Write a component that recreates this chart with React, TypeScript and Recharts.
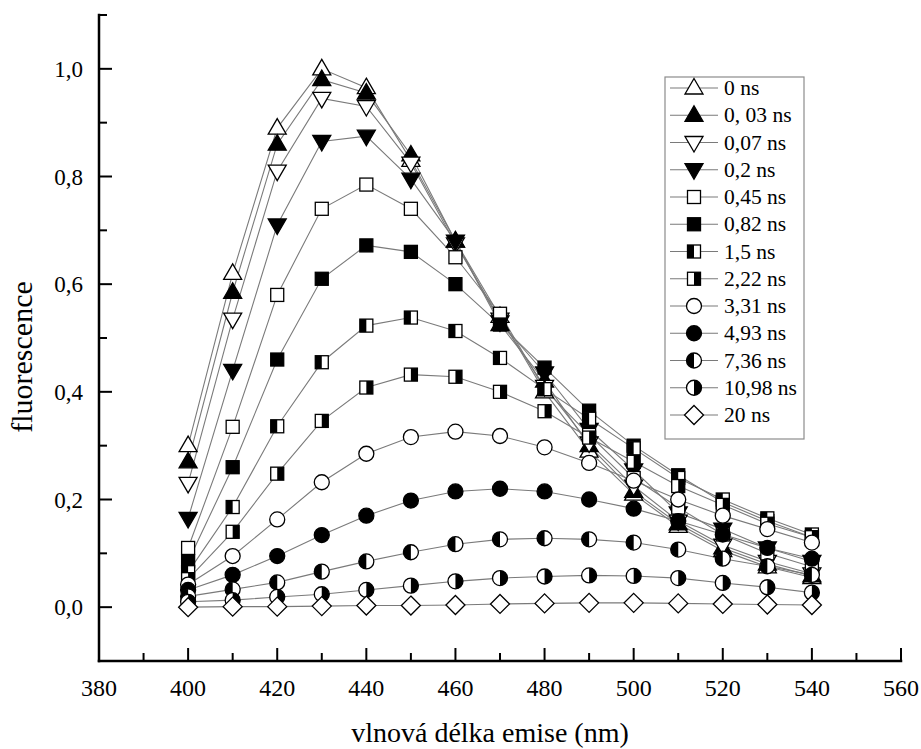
import React from 'react';
import { LineChart, Line, XAxis, YAxis } from 'recharts';

const wavelengths = [400, 410, 420, 430, 440, 450, 460, 470, 480, 490, 500, 510, 520, 530, 540];

const delays = ['0 ns', '0, 03 ns', '0,07 ns', '0,2 ns', '0,45 ns', '0,82 ns', '1,5 ns', '2,22 ns', '3,31 ns', '4,93 ns', '7,36 ns', '10,98 ns', '20 ns'];
const markers = ['triUp', 'triUpFill', 'triDown', 'triDownFill', 'sq', 'sqFill', 'sqHalfL', 'sqHalfR', 'ci', 'ciFill', 'ciHalfL', 'ciHalfR', 'dia'];

const ns0 = [0.3, 0.62, 0.89, 1.0, 0.965, 0.83, 0.68, 0.54, 0.4, 0.29, 0.21, 0.15, 0.105, 0.075, 0.055];
const ns003 = [0.27, 0.585, 0.86, 0.98, 0.955, 0.84, 0.68, 0.525, 0.42, 0.3, 0.215, 0.155, 0.11, 0.08, 0.058];
const ns007 = [0.23, 0.535, 0.81, 0.945, 0.93, 0.825, 0.675, 0.535, 0.41, 0.305, 0.225, 0.16, 0.115, 0.085, 0.062];
const ns02 = [0.165, 0.44, 0.71, 0.865, 0.875, 0.795, 0.68, 0.53, 0.435, 0.33, 0.255, 0.175, 0.145, 0.11, 0.085];
const ns045 = [0.11, 0.335, 0.58, 0.74, 0.785, 0.74, 0.65, 0.545, 0.405, 0.32, 0.24, 0.185, 0.135, 0.1, 0.075];
const ns082 = [0.085, 0.26, 0.46, 0.61, 0.672, 0.66, 0.6, 0.525, 0.445, 0.365, 0.3, 0.245, 0.195, 0.16, 0.13];
const ns15 = [0.065, 0.186, 0.336, 0.455, 0.523, 0.538, 0.513, 0.463, 0.405, 0.35, 0.295, 0.24, 0.2, 0.165, 0.135];
const ns222 = [0.052, 0.14, 0.248, 0.346, 0.408, 0.432, 0.428, 0.4, 0.364, 0.315, 0.27, 0.225, 0.19, 0.155, 0.13];
const ns331 = [0.042, 0.095, 0.163, 0.232, 0.285, 0.316, 0.326, 0.318, 0.297, 0.268, 0.235, 0.2, 0.17, 0.145, 0.12];
const ns493 = [0.032, 0.06, 0.095, 0.134, 0.17, 0.198, 0.215, 0.22, 0.215, 0.2, 0.183, 0.16, 0.135, 0.11, 0.09];
const ns736 = [0.02, 0.033, 0.046, 0.066, 0.085, 0.102, 0.117, 0.126, 0.128, 0.126, 0.12, 0.107, 0.09, 0.076, 0.06];
const ns1098 = [0.01, 0.013, 0.019, 0.024, 0.032, 0.04, 0.048, 0.054, 0.057, 0.059, 0.058, 0.054, 0.045, 0.037, 0.027];
const ns20 = [0.0, 0.001, 0.001, 0.002, 0.003, 0.003, 0.004, 0.006, 0.007, 0.008, 0.008, 0.007, 0.006, 0.005, 0.004];

const seriesValues = [ns0, ns003, ns007, ns02, ns045, ns082, ns15, ns222, ns331, ns493, ns736, ns1098, ns20];

const xTicks = [380, 390, 400, 410, 420, 430, 440, 450, 460, 470, 480, 490, 500, 510, 520, 530, 540, 550, 560];
const yTicks = [-0.1, 0, 0.1, 0.2, 0.3, 0.4, 0.5, 0.6, 0.7, 0.8, 0.9, 1.0, 1.1];

const data = wavelengths.map((w, i) => {
  const row: Record<string, number> = { w };
  seriesValues.forEach((vals, k) => {
    row['s' + k] = vals[i];
  });
  return row;
});

const SERIF = 'Liberation Serif';
const AXIS = { stroke: '#000', strokeWidth: 2.5, strokeLinecap: 'square' as const };

// one text helper so every label gets the serif face
function T(props: any) {
  const { children, size, ...rest } = props;
  return (
    <text {...rest} fontSize={size} fontFamily={SERIF} style={{ fontFamily: SERIF, fontSize: size }} fill="#000">
      {children}
    </text>
  );
}

function Marker({ kind, cx, cy }: { kind: string; cx: number; cy: number }) {
  const sw = 1.3;
  const black = '#000';
  const white = '#fff';
  switch (kind) {
    case 'triUp':
    case 'triUpFill':
      return (
        <polygon
          points={`${cx},${cy - 9.5} ${cx + 9},${cy + 6} ${cx - 9},${cy + 6}`}
          fill={kind === 'triUpFill' ? black : white}
          stroke={black}
          strokeWidth={sw}
        />
      );
    case 'triDown':
    case 'triDownFill':
      return (
        <polygon
          points={`${cx},${cy + 9.5} ${cx + 9},${cy - 6} ${cx - 9},${cy - 6}`}
          fill={kind === 'triDownFill' ? black : white}
          stroke={black}
          strokeWidth={sw}
        />
      );
    case 'sq':
    case 'sqFill':
      return <rect x={cx - 6.5} y={cy - 6.5} width={13} height={13} fill={kind === 'sqFill' ? black : white} stroke={black} strokeWidth={sw} />;
    case 'sqHalfL':
    case 'sqHalfR':
      return (
        <g>
          <rect x={cx - 6.5} y={cy - 6.5} width={13} height={13} fill={white} stroke={black} strokeWidth={sw} />
          <rect x={kind === 'sqHalfL' ? cx - 6.5 : cx} y={cy - 6.5} width={6.5} height={13} fill={black} />
        </g>
      );
    case 'ci':
    case 'ciFill':
      return <circle cx={cx} cy={cy} r={7.5} fill={kind === 'ciFill' ? black : white} stroke={black} strokeWidth={sw} />;
    case 'ciHalfL':
    case 'ciHalfR': {
      const r = 7.5;
      const sweep = kind === 'ciHalfL' ? 0 : 1;
      return (
        <g>
          <circle cx={cx} cy={cy} r={r} fill={white} stroke={black} strokeWidth={sw} />
          <path d={`M ${cx} ${cy - r} A ${r} ${r} 0 0 ${sweep} ${cx} ${cy + r} Z`} fill={black} />
        </g>
      );
    }
    default:
      return (
        <polygon
          points={`${cx},${cy - 9.5} ${cx + 9.5},${cy} ${cx},${cy + 9.5} ${cx - 9.5},${cy}`}
          fill={white}
          stroke={black}
          strokeWidth={sw}
        />
      );
  }
}

const isMajorX = (v: number) => v % 20 === 0;
const isMajorY = (v: number) => Math.round(v * 10) % 2 === 0 && v >= 0 && v <= 1;

const BottomTick = (p: any) => {
  const v = p.payload.value;
  const major = isMajorX(v);
  return (
    <g>
      <line x1={p.x} y1={p.y} x2={p.x} y2={p.y - (major ? 13 : 8)} stroke="#000" strokeWidth={2} />
      {major && (
        <T x={p.x} y={p.y + 35} textAnchor="middle" size={24}>
          {v}
        </T>
      )}
    </g>
  );
};

const TopTick = (p: any) => {
  const major = isMajorX(p.payload.value);
  return <line x1={p.x} y1={p.y} x2={p.x} y2={p.y + (major ? 13 : 8)} stroke="#000" strokeWidth={2} />;
};

const LeftTick = (p: any) => {
  const v = p.payload.value;
  const major = isMajorY(v);
  return (
    <g>
      <line x1={p.x} y1={p.y} x2={p.x + (major ? 13 : 8)} y2={p.y} stroke="#000" strokeWidth={2} />
      {major && (
        <T x={p.x - 16} y={p.y + 8} textAnchor="end" size={23}>
          {v.toFixed(1).replace('.', ',')}
        </T>
      )}
    </g>
  );
};

const RightTick = (p: any) => {
  const major = isMajorY(p.payload.value);
  return <line x1={p.x} y1={p.y} x2={p.x - (major ? 13 : 8)} y2={p.y} stroke="#000" strokeWidth={2} />;
};

function Overlay() {
  const rowH = 27.25;
  return (
    <svg width={921} height={749} style={{ position: 'absolute', left: 0, top: 0, pointerEvents: 'none' }}>
      <T x={490} y={742} textAnchor="middle" size={28}>
        vlnová délka emise (nm)
      </T>
      <T x={0} y={0} transform="translate(32,357) rotate(-90)" textAnchor="middle" size={30}>
        fluorescence
      </T>
      <rect x={665} y={77} width={139} height={362} fill="#fff" stroke="#8c8c8c" strokeWidth={1.2} />
      {delays.map((label, i) => {
        const cy = 88 + i * rowH;
        return (
          <g key={label}>
            <line x1={670} y1={cy} x2={718} y2={cy} stroke="#7a7a7a" strokeWidth={1.1} />
            <Marker kind={markers[i]} cx={694} cy={cy} />
            <T x={724} y={cy + 7} size={21.5}>
              {label}
            </T>
          </g>
        );
      })}
    </svg>
  );
}

export default function App() {
  return (
    <div style={{ position: 'absolute', left: 0, top: 0, width: 921, height: 749, background: '#fff' }}>
      <LineChart width={921} height={749} data={data} margin={{ top: 15, right: 20, bottom: 0, left: 0 }}>
        <XAxis
          dataKey="w"
          type="number"
          domain={[380, 560]}
          ticks={xTicks}
          interval={0}
          height={88}
          tickSize={0}
          tickMargin={0}
          tickLine={false}
          axisLine={AXIS}
          tick={<BottomTick />}
        />
        <XAxis
          xAxisId="top"
          orientation="top"
          type="number"
          domain={[380, 560]}
          ticks={xTicks}
          interval={0}
          height={0}
          tickSize={0}
          tickMargin={0}
          tickLine={false}
          axisLine={AXIS}
          tick={<TopTick />}
        />
        <YAxis
          type="number"
          domain={[-0.1, 1.1]}
          ticks={yTicks}
          interval={0}
          width={99}
          tickSize={0}
          tickMargin={0}
          tickLine={false}
          axisLine={AXIS}
          tick={<LeftTick />}
        />
        <YAxis
          yAxisId="right"
          orientation="right"
          type="number"
          domain={[-0.1, 1.1]}
          ticks={yTicks}
          interval={0}
          width={0}
          tickSize={0}
          tickMargin={0}
          tickLine={false}
          axisLine={AXIS}
          tick={<RightTick />}
        />
        {seriesValues.map((_, k) => (
          <Line
            key={k}
            dataKey={'s' + k}
            type="linear"
            stroke="#7a7a7a"
            strokeWidth={1.1}
            isAnimationActive={false}
            activeDot={false}
            dot={(p: any) => <Marker key={`m${k}-${p.index}`} kind={markers[k]} cx={p.cx} cy={p.cy} />}
          />
        ))}
      </LineChart>
      <Overlay />
    </div>
  );
}
